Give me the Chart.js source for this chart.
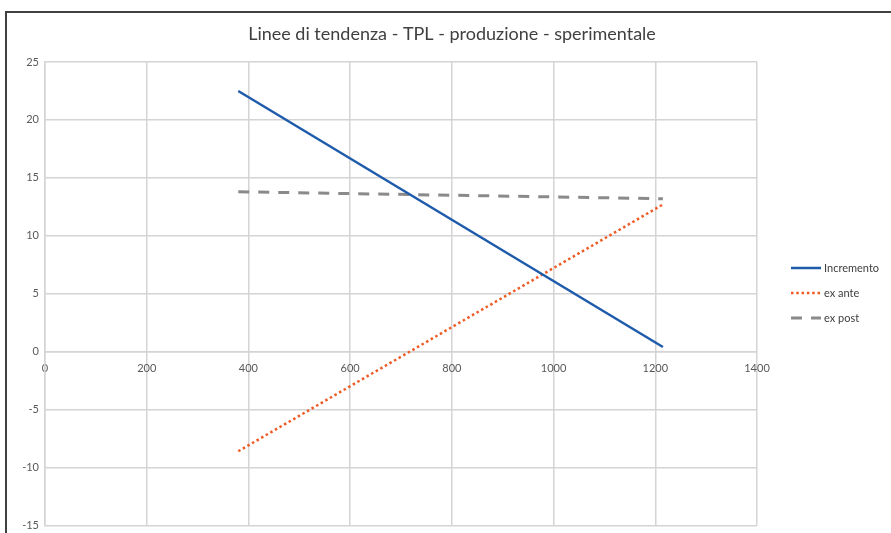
<!DOCTYPE html>
<html>
<head>
<meta charset="utf-8">
<script src="https://cdn.jsdelivr.net/npm/chart.js@4"></script>
<style>
  html, body { margin: 0; padding: 0; background: #fff; overflow: hidden; }
  #frame { position: absolute; left: 5px; top: 11px; width: 900px; height: 540px; border: 2px solid #404040; }
</style>
</head>
<body>
<div id="frame"><canvas id="trendChart" width="884" height="525"></canvas></div>
<script>
// Data
const xValues = [380, 1215];
const incremento = [22.5, 0.4];
const exAnte = [-8.6, 12.7];
const exPost = [13.8, 13.2];
const xTicks = [0, 200, 400, 600, 800, 1000, 1200, 1400];
const yTicks = [-15, -10, -5, 0, 5, 10, 15, 20, 25];
const chartTitle = 'Linee di tendenza - TPL - produzione - sperimentale';

const toPoints = (ys) => xValues.map((x, i) => ({ x: x, y: ys[i] }));

// Title and legend drawn by hand, Excel style (title centred on the whole frame)
const excelDecor = {
    id: 'excelDecor',
    afterDraw(chart) {
        const ctx = chart.ctx;
        ctx.save();
        ctx.fillStyle = '#404040';
        ctx.font = '18px Lato';
        ctx.textAlign = 'center';
        ctx.textBaseline = 'middle';
        ctx.fillText(chartTitle, 445, 21);

        const x0 = 784, y0 = 255, step = 25;
        ctx.textAlign = 'left';
        chart.data.datasets.forEach((ds, i) => {
            const y = y0 + i * step;
            ctx.beginPath();
            ctx.strokeStyle = ds.borderColor;
            ctx.lineWidth = ds.borderWidth;
            ctx.setLineDash(ds.borderDash || []);
            ctx.moveTo(x0, y);
            ctx.lineTo(x0 + 30, y);
            ctx.stroke();
            ctx.setLineDash([]);
            ctx.fillStyle = '#404040';
            ctx.font = '11px Lato';
            ctx.fillText(ds.label, x0 + 33, y);
        });
        ctx.restore();
    }
};

const ctx = document.getElementById('trendChart').getContext('2d');
const trendChart = new Chart(ctx, {
    type: 'scatter',
    data: {
        datasets: [{
            label: 'Incremento',
            data: toPoints(incremento),
            showLine: true,
            borderColor: '#1f5bab',
            borderWidth: 2.5,
            pointRadius: 0
        }, {
            label: 'ex ante',
            data: toPoints(exAnte),
            showLine: true,
            borderColor: '#f05a23',
            borderWidth: 2.5,
            borderDash: [2.5, 2.8],
            pointRadius: 0
        }, {
            label: 'ex post',
            data: toPoints(exPost),
            showLine: true,
            borderColor: '#8a8a8a',
            borderWidth: 3,
            borderDash: [11, 9],
            pointRadius: 0
        }]
    },
    options: {
        responsive: false,
        animation: false,
        devicePixelRatio: 1,
        layout: {
            padding: { left: 0, right: 134, top: 49, bottom: 0 }
        },
        scales: {
            x: {
                type: 'linear',
                position: { y: 0 },
                min: 0,
                max: 1400,
                afterBuildTicks: (scale) => { scale.ticks = xTicks.map(v => ({ value: v })); },
                grid: { color: '#d4d4d4', lineWidth: 1.5, drawTicks: false },
                border: { color: '#d4d4d4', width: 1.5 },
                ticks: {
                    color: '#595959', font: { family: 'Lato', size: 11 }, padding: 10, maxRotation: 0,
                    callback: (v) => String(v)
                }
            },
            y: {
                min: -15,
                max: 25,
                afterBuildTicks: (scale) => { scale.ticks = yTicks.map(v => ({ value: v })); },
                afterFit: (scale) => { scale.width = 38; },
                grid: { color: '#d4d4d4', lineWidth: 1.5, drawTicks: false },
                border: { color: '#d4d4d4', width: 1.5 },
                ticks: {
                    color: '#595959', font: { family: 'Lato', size: 11 }, padding: 6,
                    callback: (v) => String(v)
                }
            }
        },
        plugins: {
            legend: { display: false },
            tooltip: { enabled: false },
            title: { display: false }
        }
    },
    plugins: [excelDecor]
});
</script>
</body>
</html>
